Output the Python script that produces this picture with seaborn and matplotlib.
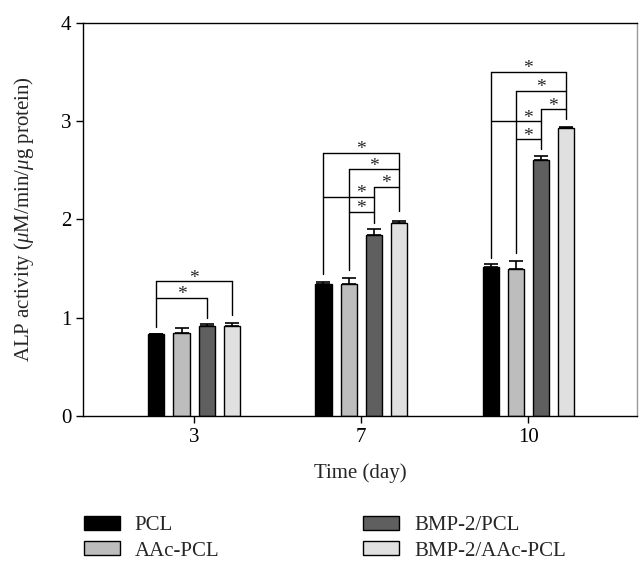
import numpy as np
import pandas as pd
import matplotlib
matplotlib.use('Agg')
import matplotlib.pyplot as plt
import seaborn as sns

days = ['3', '7', '10']
groups = ['PCL', 'AAc-PCL', 'BMP-2/PCL', 'BMP-2/AAc-PCL']
colors = ['#000000', '#bdbdbd', '#5f5f5f', '#e0e0e0']

# mean ALP activity, one list per group (days 3, 7, 10)
pcl = [0.83, 1.34, 1.52]
aac_pcl = [0.85, 1.34, 1.50]
bmp_pcl = [0.915, 1.84, 2.60]
bmp_aac_pcl = [0.92, 1.965, 2.93]
# upper error bars
pcl_err = [0.01, 0.025, 0.025]
aac_pcl_err = [0.05, 0.065, 0.08]
bmp_pcl_err = [0.025, 0.06, 0.05]
bmp_aac_pcl_err = [0.025, 0.015, 0.012]

# significance brackets per day: (left bar, right bar, level, star between bars)
brackets = {
    '3': [(0, 3, 1.37, (0, 3)), (0, 2, 1.20, (0, 2))],
    '7': [(0, 3, 2.68, (0, 3)), (1, 3, 2.51, (1, 3)), (2, 3, 2.33, (2, 3)),
          (0, 2, 2.23, (1, 2)), (1, 2, 2.075, (1, 2))],
    '10': [(0, 3, 3.50, (0, 3)), (1, 3, 3.31, (1, 3)), (2, 3, 3.12, (2, 3)),
           (0, 2, 3.00, (1, 2)), (1, 2, 2.815, (1, 2))],
}
# lower end of each bar's vertical bracket line (None = no line)
drops = {
    '3': [0.91, None, 1.00, 1.03],
    '7': [1.445, 1.485, 1.965, 2.09],
    '10': [1.605, 1.655, 2.72, 3.02],
}

values = [pcl, aac_pcl, bmp_pcl, bmp_aac_pcl]
errors = [pcl_err, aac_pcl_err, bmp_pcl_err, bmp_aac_pcl_err]
df = pd.DataFrame({
    'day': [d for g in groups for d in days],
    'group': [g for g in groups for d in days],
    'value': [v for vals in values for v in vals],
    'err': [e for errs in errors for e in errs],
})

sns.set_style('white')
plt.rcParams['font.family'] = ['Liberation Serif', 'DejaVu Serif']
plt.rcParams['mathtext.fontset'] = 'custom'
plt.rcParams['mathtext.rm'] = 'Liberation Serif'
plt.rcParams['mathtext.it'] = 'Liberation Serif:italic'

fig = plt.figure(figsize=(6.43, 5.70), dpi=100)
ax = fig.add_axes([0.129, 0.270, 0.862, 0.690])

sns.barplot(data=df, x='day', y='value', hue='group', order=days, hue_order=groups,
            palette=dict(zip(groups, colors)), width=0.6, gap=0.36,
            edgecolor='black', linewidth=1, errorbar=None, ax=ax)

handles, labels = ax.get_legend_handles_labels()
ax.get_legend().remove()

# bar centres from the drawn patches, grouped by day
bars = [p for p in ax.patches if p.get_height() > 0]
centres = {d: [] for d in days}
for p in bars:
    cx = p.get_x() + p.get_width() / 2
    centres[days[int(round(cx))]].append(cx)
for d in days:
    centres[d].sort()

for gi, g in enumerate(groups):
    sub = df[df.group == g]
    xs = [centres[d][gi] for d in sub.day]
    ax.errorbar(xs, sub.value, yerr=[np.zeros(len(sub)), sub.err], fmt='none',
                ecolor='black', elinewidth=1.2, capsize=5, capthick=1.2, zorder=3)

for d in days:
    cx = centres[d]
    tops = {}
    for i, j, level, star in brackets[d]:
        ax.plot([cx[i], cx[j]], [level, level], color='black', lw=1)
        tops[i] = max(tops.get(i, 0), level)
        tops[j] = max(tops.get(j, 0), level)
        sx = (cx[star[0]] + cx[star[1]]) / 2
        ax.annotate('*', (sx, level), xytext=(0, -1), textcoords='offset points',
                    ha='center', va='baseline', fontsize=14)
    for i, bottom in enumerate(drops[d]):
        if bottom is not None:
            ax.plot([cx[i], cx[i]], [bottom, tops[i]], color='black', lw=1)

ax.set_xlim(-0.665, 2.653)
ax.set_ylim(0, 4)
ax.set_yticks([0, 1, 2, 3, 4])
ax.set_xlabel('Time (day)', fontsize=15, labelpad=12)
ax.set_ylabel(r'ALP activity ($\mu$M/min/$\mu$g protein)', fontsize=15, labelpad=18)
ax.tick_params(axis='both', labelsize=15, direction='out', length=5, width=1,
               left=True, bottom=True, colors='black')
for s in ax.spines.values():
    s.set_visible(True)
    s.set_color('black')
    s.set_linewidth(1)
ax.spines['right'].set_color('#999999')

fig.legend(handles, labels, loc='upper left', bbox_to_anchor=(0.13, 0.095), ncol=2,
           frameon=False, fontsize=15, handlelength=1.75, handleheight=0.65,
           handletextpad=0.7, labelspacing=0.3, columnspacing=6.9, borderpad=0,
           borderaxespad=0)

fig.savefig('out.png', dpi=100)
